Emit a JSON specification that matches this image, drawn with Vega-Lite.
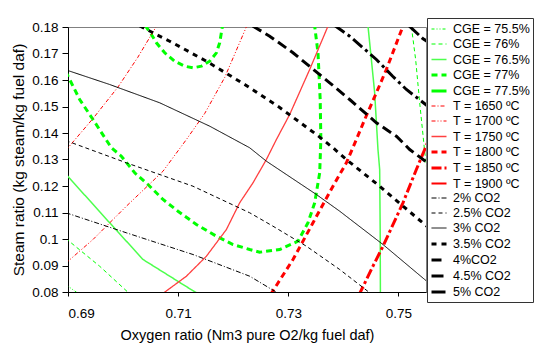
{
  "$schema": "https://vega.github.io/schema/vega-lite/v6.json",
  "width": 358,
  "height": 265,
  "autosize": {"type": "none"},
  "padding": {"left": 68, "top": 27, "right": 110, "bottom": 55},
  "background": "white",
  "config": {
    "view": {"stroke": "#808080", "strokeWidth": 1},
    "font": "Liberation Sans",
    "axis": {"grid": false, "domainColor": "#000", "tickColor": "#000", "labelColor": "#000", "titleColor": "#000", "labelFont": "Liberation Sans", "titleFont": "Liberation Sans", "labelFontSize": 13.5, "titleFontSize": 14.5, "titleFontWeight": "normal"}
  },
  "data": {"values": [
    {"s":"CGE = 75.5%","g":"a","o":1,"x":0.6896,"y":0.0828},
    {"s":"CGE = 75.5%","g":"a","o":2,"x":0.6916,"y":0.0798},

    {"s":"CGE = 76%","g":"a","o":1,"x":0.6896,"y":0.1002},
    {"s":"CGE = 76%","g":"a","o":2,"x":0.69576,"y":0.0897},
    {"s":"CGE = 76%","g":"a","o":3,"x":0.7011,"y":0.0795},
    {"s":"CGE = 76%","g":"b","o":1,"x":0.75234,"y":0.1802},
    {"s":"CGE = 76%","g":"b","o":2,"x":0.75312,"y":0.16774},
    {"s":"CGE = 76%","g":"b","o":3,"x":0.75385,"y":0.15151},
    {"s":"CGE = 76%","g":"b","o":4,"x":0.75476,"y":0.1330},
    {"s":"CGE = 76%","g":"b","o":5,"x":0.7555,"y":0.120},

    {"s":"CGE = 76.5%","g":"a","o":1,"x":0.6896,"y":0.1245},
    {"s":"CGE = 76.5%","g":"a","o":2,"x":0.69757,"y":0.10611},
    {"s":"CGE = 76.5%","g":"a","o":3,"x":0.70362,"y":0.09226},
    {"s":"CGE = 76.5%","g":"a","o":4,"x":0.713,"y":0.08008},
    {"s":"CGE = 76.5%","g":"a","o":5,"x":0.7135,"y":0.0796},
    {"s":"CGE = 76.5%","g":"b","o":1,"x":0.74447,"y":0.1803},
    {"s":"CGE = 76.5%","g":"b","o":2,"x":0.74508,"y":0.16774},
    {"s":"CGE = 76.5%","g":"b","o":3,"x":0.74568,"y":0.15517},
    {"s":"CGE = 76.5%","g":"b","o":4,"x":0.74628,"y":0.13377},
    {"s":"CGE = 76.5%","g":"b","o":5,"x":0.74659,"y":0.12623},
    {"s":"CGE = 76.5%","g":"b","o":6,"x":0.74668,"y":0.10358},
    {"s":"CGE = 76.5%","g":"b","o":7,"x":0.74672,"y":0.0796},

    {"s":"CGE = 77%","g":"a","o":1,"x":0.68958,"y":0.1632},
    {"s":"CGE = 77%","g":"a","o":2,"x":0.69212,"y":0.15264},
    {"s":"CGE = 77%","g":"a","o":3,"x":0.69454,"y":0.14509},
    {"s":"CGE = 77%","g":"a","o":4,"x":0.69788,"y":0.13442},
    {"s":"CGE = 77%","g":"a","o":5,"x":0.69969,"y":0.13125},
    {"s":"CGE = 77%","g":"a","o":6,"x":0.70211,"y":0.12498},
    {"s":"CGE = 77%","g":"a","o":7,"x":0.70452,"y":0.12057},
    {"s":"CGE = 77%","g":"a","o":8,"x":0.70725,"y":0.11491},
    {"s":"CGE = 77%","g":"a","o":9,"x":0.70997,"y":0.11049},
    {"s":"CGE = 77%","g":"a","o":10,"x":0.71331,"y":0.10547},
    {"s":"CGE = 77%","g":"a","o":11,"x":0.71694,"y":0.10106},
    {"s":"CGE = 77%","g":"a","o":12,"x":0.71996,"y":0.09792},
    {"s":"CGE = 77%","g":"a","o":13,"x":0.72299,"y":0.09604},
    {"s":"CGE = 77%","g":"a","o":14,"x":0.7248,"y":0.09502},
    {"s":"CGE = 77%","g":"a","o":15,"x":0.72843,"y":0.09604},
    {"s":"CGE = 77%","g":"a","o":16,"x":0.73176,"y":0.09917},
    {"s":"CGE = 77%","g":"a","o":17,"x":0.73357,"y":0.10611},
    {"s":"CGE = 77%","g":"a","o":18,"x":0.73479,"y":0.11366},
    {"s":"CGE = 77%","g":"a","o":19,"x":0.7357,"y":0.12498},
    {"s":"CGE = 77%","g":"a","o":20,"x":0.73591,"y":0.13755},
    {"s":"CGE = 77%","g":"a","o":21,"x":0.73579,"y":0.15264},
    {"s":"CGE = 77%","g":"a","o":22,"x":0.73539,"y":0.17026},
    {"s":"CGE = 77%","g":"a","o":23,"x":0.73479,"y":0.1803},
    {"s":"CGE = 77%","g":"b","o":1,"x":0.70402,"y":0.18057},
    {"s":"CGE = 77%","g":"b","o":2,"x":0.70514,"y":0.17717},
    {"s":"CGE = 77%","g":"b","o":3,"x":0.70605,"y":0.17404},
    {"s":"CGE = 77%","g":"b","o":4,"x":0.70756,"y":0.17026},
    {"s":"CGE = 77%","g":"b","o":5,"x":0.70937,"y":0.16709},
    {"s":"CGE = 77%","g":"b","o":6,"x":0.71119,"y":0.16521},
    {"s":"CGE = 77%","g":"b","o":7,"x":0.71269,"y":0.1646},
    {"s":"CGE = 77%","g":"b","o":8,"x":0.71422,"y":0.16521},
    {"s":"CGE = 77%","g":"b","o":9,"x":0.71573,"y":0.16709},
    {"s":"CGE = 77%","g":"b","o":10,"x":0.71694,"y":0.17026},
    {"s":"CGE = 77%","g":"b","o":11,"x":0.71754,"y":0.17404},
    {"s":"CGE = 77%","g":"b","o":12,"x":0.71809,"y":0.18094},

    {"s":"T = 1650 ºC","g":"a","o":1,"x":0.68958,"y":0.1334},
    {"s":"T = 1650 ºC","g":"a","o":2,"x":0.69454,"y":0.14547},
    {"s":"T = 1650 ºC","g":"a","o":3,"x":0.69908,"y":0.15736},
    {"s":"T = 1650 ºC","g":"a","o":4,"x":0.70265,"y":0.16849},
    {"s":"T = 1650 ºC","g":"a","o":5,"x":0.70619,"y":0.18075},

    {"s":"T = 1700 ºC","g":"a","o":1,"x":0.68958,"y":0.09084},
    {"s":"T = 1700 ºC","g":"a","o":2,"x":0.69454,"y":0.09981},
    {"s":"T = 1700 ºC","g":"a","o":3,"x":0.7006,"y":0.11238},
    {"s":"T = 1700 ºC","g":"a","o":4,"x":0.70725,"y":0.12558},
    {"s":"T = 1700 ºC","g":"a","o":5,"x":0.7115,"y":0.13755},
    {"s":"T = 1700 ºC","g":"a","o":6,"x":0.71482,"y":0.14736},
    {"s":"T = 1700 ºC","g":"a","o":7,"x":0.71845,"y":0.16094},
    {"s":"T = 1700 ºC","g":"a","o":8,"x":0.72253,"y":0.18075},

    {"s":"T = 1750 ºC","g":"a","o":1,"x":0.70701,"y":0.0791},
    {"s":"T = 1750 ºC","g":"a","o":2,"x":0.7115,"y":0.08596},
    {"s":"T = 1750 ºC","g":"a","o":3,"x":0.71513,"y":0.09351},
    {"s":"T = 1750 ºC","g":"a","o":4,"x":0.71876,"y":0.10358},
    {"s":"T = 1750 ºC","g":"a","o":5,"x":0.72117,"y":0.11366},
    {"s":"T = 1750 ºC","g":"a","o":6,"x":0.72359,"y":0.12121},
    {"s":"T = 1750 ºC","g":"a","o":7,"x":0.72602,"y":0.13},
    {"s":"T = 1750 ºC","g":"a","o":8,"x":0.72784,"y":0.13755},
    {"s":"T = 1750 ºC","g":"a","o":9,"x":0.73025,"y":0.14698},
    {"s":"T = 1750 ºC","g":"a","o":10,"x":0.73388,"y":0.16396},
    {"s":"T = 1750 ºC","g":"a","o":11,"x":0.7372,"y":0.1803},

    {"s":"T = 1800 ºC","g":"a","o":1,"x":0.7268,"y":0.0791},
    {"s":"T = 1800 ºC","g":"a","o":2,"x":0.73085,"y":0.09226},
    {"s":"T = 1800 ºC","g":"a","o":3,"x":0.73448,"y":0.10611},
    {"s":"T = 1800 ºC","g":"a","o":4,"x":0.73811,"y":0.11992},
    {"s":"T = 1800 ºC","g":"a","o":5,"x":0.74054,"y":0.12875},
    {"s":"T = 1800 ºC","g":"a","o":6,"x":0.74236,"y":0.13755},
    {"s":"T = 1800 ºC","g":"a","o":7,"x":0.74387,"y":0.14509},
    {"s":"T = 1800 ºC","g":"a","o":8,"x":0.74599,"y":0.15517},
    {"s":"T = 1800 ºC","g":"a","o":9,"x":0.7478,"y":0.16396},
    {"s":"T = 1800 ºC","g":"a","o":10,"x":0.75082,"y":0.1803},

    {"s":"T = 1850 ºC","g":"a","o":1,"x":0.74278,"y":0.07868},
    {"s":"T = 1850 ºC","g":"a","o":2,"x":0.74537,"y":0.08974},
    {"s":"T = 1850 ºC","g":"a","o":3,"x":0.74719,"y":0.09728},
    {"s":"T = 1850 ºC","g":"a","o":4,"x":0.75082,"y":0.11366},
    {"s":"T = 1850 ºC","g":"a","o":5,"x":0.75325,"y":0.12623},
    {"s":"T = 1850 ºC","g":"a","o":6,"x":0.75476,"y":0.13377},
    {"s":"T = 1850 ºC","g":"a","o":7,"x":0.75567,"y":0.1383},

    {"s":"2% CO2","g":"a","o":1,"x":0.68958,"y":0.10993},
    {"s":"2% CO2","g":"a","o":2,"x":0.7006,"y":0.10234},
    {"s":"2% CO2","g":"a","o":3,"x":0.71269,"y":0.09415},
    {"s":"2% CO2","g":"a","o":4,"x":0.72299,"y":0.08596},
    {"s":"2% CO2","g":"a","o":5,"x":0.72807,"y":0.07962},

    {"s":"2.5% CO2","g":"a","o":1,"x":0.68958,"y":0.13717},
    {"s":"2.5% CO2","g":"a","o":2,"x":0.7006,"y":0.12875},
    {"s":"2.5% CO2","g":"a","o":3,"x":0.71269,"y":0.11992},
    {"s":"2.5% CO2","g":"a","o":4,"x":0.72299,"y":0.10989},
    {"s":"2.5% CO2","g":"a","o":5,"x":0.72722,"y":0.10483},
    {"s":"2.5% CO2","g":"a","o":6,"x":0.73328,"y":0.09728},
    {"s":"2.5% CO2","g":"a","o":7,"x":0.73933,"y":0.08849},
    {"s":"2.5% CO2","g":"a","o":8,"x":0.74496,"y":0.07943},

    {"s":"3% CO2","g":"a","o":1,"x":0.68958,"y":0.16385},
    {"s":"3% CO2","g":"a","o":2,"x":0.69757,"y":0.1583},
    {"s":"3% CO2","g":"a","o":3,"x":0.70665,"y":0.1514},
    {"s":"3% CO2","g":"a","o":4,"x":0.71573,"y":0.14257},
    {"s":"3% CO2","g":"a","o":5,"x":0.72299,"y":0.13442},
    {"s":"3% CO2","g":"a","o":6,"x":0.72602,"y":0.12936},
    {"s":"3% CO2","g":"a","o":7,"x":0.7351,"y":0.11679},
    {"s":"3% CO2","g":"a","o":8,"x":0.73933,"y":0.11049},
    {"s":"3% CO2","g":"a","o":9,"x":0.74719,"y":0.09792},
    {"s":"3% CO2","g":"a","o":10,"x":0.75476,"y":0.08472},
    {"s":"3% CO2","g":"a","o":11,"x":0.75567,"y":0.0832},

    {"s":"3.5% CO2","g":"a","o":1,"x":0.70302,"y":0.18038},
    {"s":"3.5% CO2","g":"a","o":2,"x":0.70846,"y":0.17464},
    {"s":"3.5% CO2","g":"a","o":3,"x":0.71513,"y":0.16709},
    {"s":"3.5% CO2","g":"a","o":4,"x":0.72208,"y":0.1583},
    {"s":"3.5% CO2","g":"a","o":5,"x":0.72843,"y":0.14962},
    {"s":"3.5% CO2","g":"a","o":6,"x":0.7351,"y":0.13943},
    {"s":"3.5% CO2","g":"a","o":7,"x":0.73811,"y":0.13442},
    {"s":"3.5% CO2","g":"a","o":8,"x":0.74054,"y":0.13},
    {"s":"3.5% CO2","g":"a","o":9,"x":0.74659,"y":0.11992},
    {"s":"3.5% CO2","g":"a","o":10,"x":0.75476,"y":0.10547},
    {"s":"3.5% CO2","g":"a","o":11,"x":0.75567,"y":0.10396},

    {"s":"4%CO2","g":"a","o":1,"x":0.72353,"y":0.18038},
    {"s":"4%CO2","g":"a","o":2,"x":0.72662,"y":0.17653},
    {"s":"4%CO2","g":"a","o":3,"x":0.73079,"y":0.17038},
    {"s":"4%CO2","g":"a","o":4,"x":0.73751,"y":0.15894},
    {"s":"4%CO2","g":"a","o":5,"x":0.74114,"y":0.15264},
    {"s":"4%CO2","g":"a","o":6,"x":0.74599,"y":0.14385},
    {"s":"4%CO2","g":"a","o":7,"x":0.74962,"y":0.13879},
    {"s":"4%CO2","g":"a","o":8,"x":0.75204,"y":0.13377},
    {"s":"4%CO2","g":"a","o":9,"x":0.75567,"y":0.12811},

    {"s":"4.5% CO2","g":"a","o":1,"x":0.73842,"y":0.18057},
    {"s":"4.5% CO2","g":"a","o":2,"x":0.74114,"y":0.17653},
    {"s":"4.5% CO2","g":"a","o":3,"x":0.74599,"y":0.16774},
    {"s":"4.5% CO2","g":"a","o":4,"x":0.74895,"y":0.16143},
    {"s":"4.5% CO2","g":"a","o":5,"x":0.75144,"y":0.15642},
    {"s":"4.5% CO2","g":"a","o":6,"x":0.75494,"y":0.15075},
    {"s":"4.5% CO2","g":"a","o":7,"x":0.75567,"y":0.14962},

    {"s":"5% CO2","g":"a","o":1,"x":0.75185,"y":0.18057},
    {"s":"5% CO2","g":"a","o":2,"x":0.7544,"y":0.17566},
    {"s":"5% CO2","g":"a","o":3,"x":0.75567,"y":0.17396}
  ]},
  "mark": {"type": "line", "clip": true},
  "encoding": {
    "x": {"field": "x", "type": "quantitative",
      "scale": {"domain": [0.69, 0.755], "nice": false, "zero": false},
      "axis": {"title": "Oxygen ratio (Nm3 pure O2/kg fuel daf)", "values": [0.69, 0.71, 0.73, 0.75], "format": ".2f", "tickSize": 4, "labelPadding": 10, "titlePadding": 9}},
    "y": {"field": "y", "type": "quantitative",
      "scale": {"domain": [0.08, 0.18], "nice": false, "zero": false},
      "axis": {"title": "Steam ratio (kg steam/kg fuel daf)", "values": [0.08, 0.09, 0.1, 0.11, 0.12, 0.13, 0.14, 0.15, 0.16, 0.17, 0.18], "format": ".2~f", "tickSize": 6, "labelPadding": 4, "titlePadding": 5, "titleFontSize": 15.5}},
    "detail": {"field": "g"},
    "order": {"field": "o"},
    "color": {"field": "s", "type": "nominal",
      "scale": {"domain": ["CGE = 75.5%","CGE = 76%","CGE = 76.5%","CGE = 77%","CGE = 77.5%","T = 1650 ºC","T = 1700 ºC","T = 1750 ºC","T = 1800 ºC","T = 1850 ºC","T = 1900 ºC","2% CO2","2.5% CO2","3% CO2","3.5% CO2","4%CO2","4.5% CO2","5% CO2"],
        "range": ["#00FF00","#00FF00","#4DFF4D","#00FF00","#00FF00","#FF0000","#FF0000","#FF4040","#FF0000","#FF0000","#FF0000","#000000","#000000","#000000","#000000","#000000","#000000","#000000"]},
      "legend": {"title": null, "orient": "none", "legendX": 359, "legendY": -9, "symbolType": "stroke", "symbolSize": 225, "labelFont": "Liberation Sans", "labelFontSize": 12.5, "labelColor": "#000", "strokeColor": "#333", "fillColor": "white", "padding": 3, "rowPadding": 0, "labelOffset": 5}},
    "strokeDash": {"field": "s", "type": "nominal",
      "scale": {"domain": ["CGE = 75.5%","CGE = 76%","CGE = 76.5%","CGE = 77%","CGE = 77.5%","T = 1650 ºC","T = 1700 ºC","T = 1750 ºC","T = 1800 ºC","T = 1850 ºC","T = 1900 ºC","2% CO2","2.5% CO2","3% CO2","3.5% CO2","4%CO2","4.5% CO2","5% CO2"],
        "range": [[3,2,1,2,1,2],[4,3],[1,0],[6,4],[1,0],[4,2,1,2],[4,2,1,2,1,2],[1,0],[6,4],[10,3,3,3],[1,0],[5,2,1,2],[4,3],[1,0],[5,5],[10,5],[12,4,3,4],[14,4]]},
      "legend": {"title": null, "orient": "none", "legendX": 359, "legendY": -9, "symbolType": "stroke", "symbolSize": 225, "labelFont": "Liberation Sans", "labelFontSize": 12.5, "labelColor": "#000", "strokeColor": "#333", "fillColor": "white", "padding": 3, "rowPadding": 0, "labelOffset": 5}},
    "strokeWidth": {"field": "s", "type": "nominal",
      "scale": {"type": "ordinal", "domain": ["CGE = 75.5%","CGE = 76%","CGE = 76.5%","CGE = 77%","CGE = 77.5%","T = 1650 ºC","T = 1700 ºC","T = 1750 ºC","T = 1800 ºC","T = 1850 ºC","T = 1900 ºC","2% CO2","2.5% CO2","3% CO2","3.5% CO2","4%CO2","4.5% CO2","5% CO2"],
        "range": [1,1,1.5,3,3,1,1,1.3,3,3,2,1,1,1,3,3,3,3]},
      "legend": {"title": null, "orient": "none", "legendX": 359, "legendY": -9, "symbolType": "stroke", "symbolSize": 225, "labelFont": "Liberation Sans", "labelFontSize": 12.5, "labelColor": "#000", "strokeColor": "#333", "fillColor": "white", "padding": 3, "rowPadding": 0, "labelOffset": 5}}
  }
}
